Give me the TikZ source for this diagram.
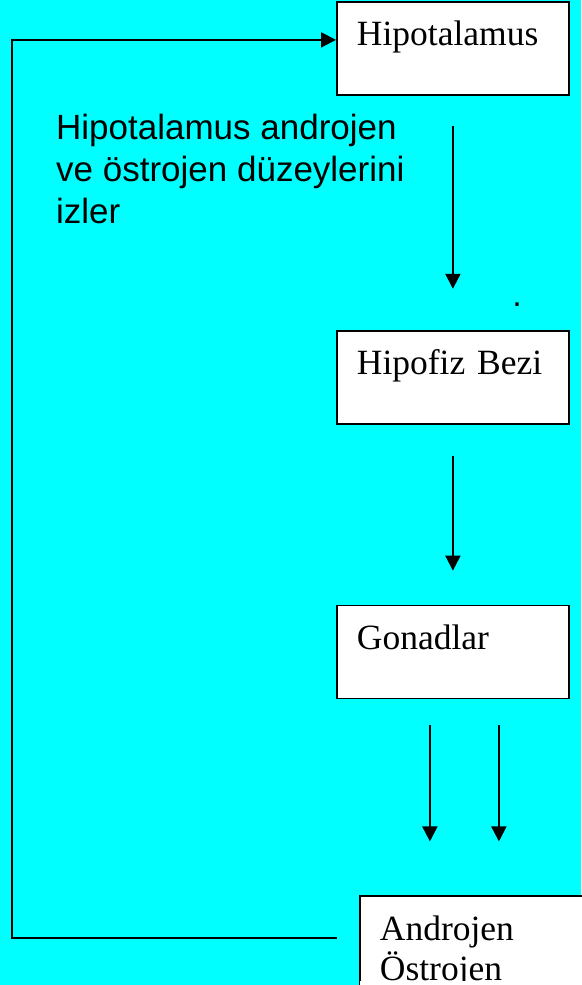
\documentclass[tikz,border=0pt]{standalone}
\usepackage{fontspec}
\setmainfont{Liberation Serif}
\newfontfamily\arialfont{Liberation Sans}
\usetikzlibrary{positioning,arrows.meta}
\definecolor{turkuaz}{RGB}{0,255,255}

\begin{document}
\begin{tikzpicture}[x=1pt,y=-1pt,
  kutu/.style={draw,line width=1.8pt,fill=white,anchor=north west,inner xsep=20pt,inner ysep=0pt,
    text width=192pt,align=left,text height=44pt,text depth=49pt,font=\fontsize{35.5}{40}\selectfont},
  ok/.style={line width=2pt,-{Triangle[length=15pt,width=15pt]}}]
\fill[turkuaz] (0,0) rectangle (581,985);
\useasboundingbox (0,0) rectangle (581,985);
\node[kutu] (hipotalamus) at (336,1) {Hipotalamus};
\node[kutu,below=234pt of hipotalamus] (hipofiz) {Hipofiz Bezi};
\node[kutu,below=180pt of hipofiz] (gonad) {Gonadlar};
\node[kutu,below=196pt of gonad,xshift=23pt] (androjen) {Androjen\\Östrojen};
\fill[white] ([xshift=1pt,yshift=0.9pt]androjen.south west) rectangle ([yshift=9pt]androjen.south east);
\node[anchor=base west,align=left,inner sep=0pt,font=\arialfont\fontsize{35}{42}\selectfont] (izler) at (56,223)
  {Hipotalamus androjen\\ve östrojen düzeylerini\\izler};
\node[font=\arialfont\fontsize{34}{36}\selectfont,inner sep=0pt] (nokta) at (517,305) {.};
\coordinate (geri) at (12,500);
\draw[ok,shorten <=30pt,shorten >=41pt] (hipotalamus.south) -- (hipofiz.north);
\draw[ok,shorten <=31pt,shorten >=34pt] (hipofiz.south) -- (gonad.north);
\draw[ok,shorten <=26pt,shorten >=54pt] ([xshift=-23pt]gonad.south) -- ([xshift=-23pt]gonad.south |- androjen.north);
\draw[ok,shorten <=26pt,shorten >=54pt] ([xshift=46pt]gonad.south) -- ([xshift=46pt]gonad.south |- androjen.north);
\draw[ok,shorten <=22pt] ([yshift=4.5pt]androjen.west) -| (geri) |- ([yshift=8.5pt]hipotalamus.west);
\end{tikzpicture}
\end{document}
